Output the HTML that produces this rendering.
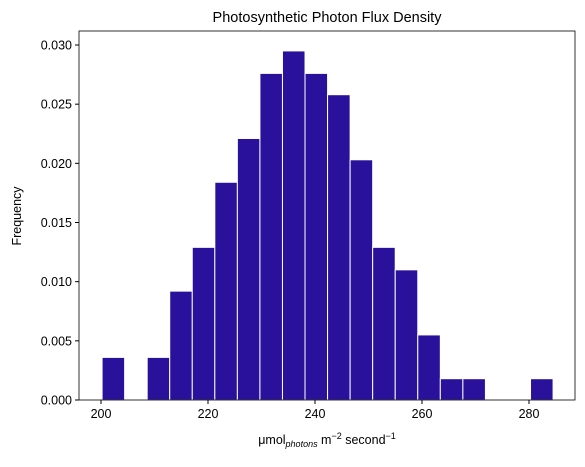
<!DOCTYPE html>
<html><head><meta charset="utf-8"><style>
body{margin:0;background:#fff;}
svg text{font-family:"Liberation Sans","DejaVu Sans",sans-serif;fill:#000;}
</style></head><body>
<svg id="chart" width="585" height="462">
<g id="bars"></g>
<g id="axes"></g>
<text x="327" y="22" font-size="14.5" text-anchor="middle">Photosynthetic Photon Flux Density</text>
<text x="327" y="444" font-size="12.5" text-anchor="middle">μmol<tspan font-size="9" font-style="italic" dy="3">photons</tspan><tspan dy="-3"> m</tspan><tspan font-size="9" dy="-5">−2</tspan><tspan dy="5"> second</tspan><tspan font-size="9" dy="-5">−1</tspan></text>
<text transform="translate(21,216) rotate(-90)" font-size="12.5" text-anchor="middle">Frequency</text>
</svg>
<script>
const binStart = 200.2;
const binWidth = 4.215;
const densities = [0.0036,0,0.0036,0.0092,0.0129,0.0184,0.0221,0.0276,0.0295,0.0276,0.0258,0.0203,0.0129,0.0110,0.0055,0.0018,0.0018,0,0,0.0018];
const xTicks = [200,220,240,260,280];
const yTicks = [0,0.005,0.010,0.015,0.020,0.025,0.030];
const yTickLabels = ["0.000","0.005","0.010","0.015","0.020","0.025","0.030"];

const L=79,R=575,T=31,B=400;
const xs=v=>101+(v-200)*(428/80);
const ys=v=>B-v*(355/0.030);
const NS="http://www.w3.org/2000/svg";
const bars=document.getElementById('bars'), axes=document.getElementById('axes');
densities.forEach((d,i)=>{
  if(d<=0) return;
  const x0=xs(binStart+i*binWidth), x1=xs(binStart+(i+1)*binWidth);
  const r=document.createElementNS(NS,'rect');
  r.setAttribute('x',x0);r.setAttribute('y',ys(d));
  r.setAttribute('width',x1-x0);r.setAttribute('height',B-ys(d));
  r.setAttribute('fill','#2a119b');r.setAttribute('stroke','#fff');r.setAttribute('stroke-width','1');
  
  
  bars.appendChild(r);
});
const frame=document.createElementNS(NS,'rect');
frame.setAttribute('x',L);frame.setAttribute('y',T);frame.setAttribute('width',R-L);frame.setAttribute('height',B-T);
frame.setAttribute('fill','none');frame.setAttribute('stroke','#000');frame.setAttribute('stroke-width','0.8');


axes.appendChild(frame);
xTicks.forEach(v=>{
  const x=xs(v);
  const l=document.createElementNS(NS,'line');
  l.setAttribute('x1',x);l.setAttribute('x2',x);l.setAttribute('y1',B);l.setAttribute('y2',B+4);l.setAttribute('stroke','#000');
  
  
  axes.appendChild(l);
  const t=document.createElementNS(NS,'text');
  t.setAttribute('x',x);t.setAttribute('y',B+18);t.setAttribute('font-size','12.5');t.setAttribute('text-anchor','middle');
  t.textContent=v;
  
  
  axes.appendChild(t);
});
yTicks.forEach((v,i)=>{
  const y=ys(v);
  const l=document.createElementNS(NS,'line');
  l.setAttribute('x1',L-4);l.setAttribute('x2',L);l.setAttribute('y1',y);l.setAttribute('y2',y);l.setAttribute('stroke','#000');
  
  
  axes.appendChild(l);
  const t=document.createElementNS(NS,'text');
  t.setAttribute('x',L-7);t.setAttribute('y',y+4.5);t.setAttribute('font-size','12.5');t.setAttribute('text-anchor','end');
  t.textContent=yTickLabels[i];
  
  
  axes.appendChild(t);
});
</script>
</body></html>
